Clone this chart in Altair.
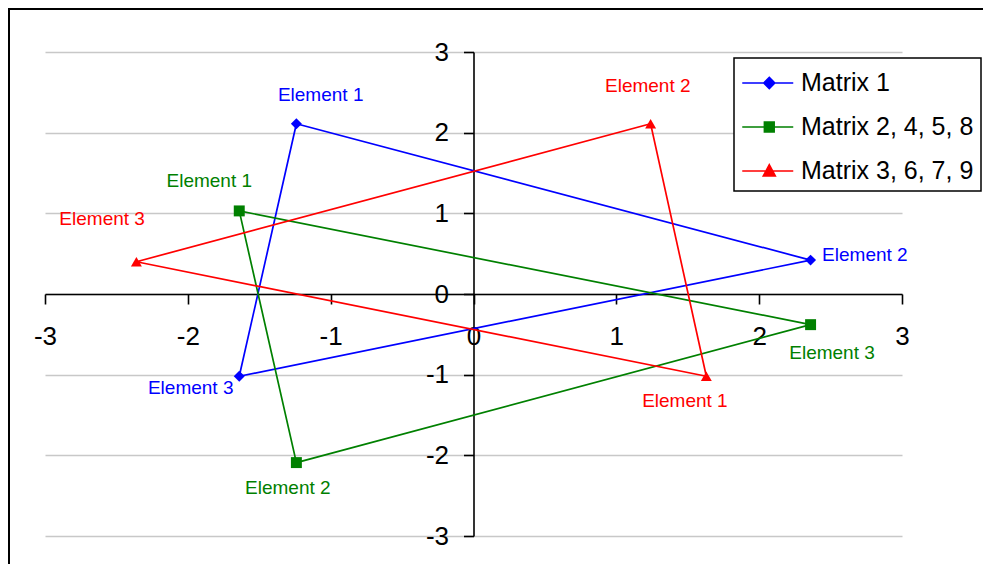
import altair as alt
import pandas as pd

FONT = "Liberation Sans"

series = ["Matrix 1", "Matrix 2, 4, 5, 8", "Matrix 3, 6, 7, 9"]
colors = ["#0000ff", "#008000", "#ff0000"]
elements = ["Element 1", "Element 2", "Element 3"]

# point coordinates (Element 1, 2, 3) per series
m1_x = [-1.24, 2.36, -1.64]
m1_y = [2.11, 0.42, -1.02]
m2_x = [-1.64, -1.24, 2.36]
m2_y = [1.03, -2.09, -0.38]
m3_x = [1.63, 1.24, -2.36]
m3_y = [-1.02, 2.11, 0.40]

# label anchor positions (data units)
m1_lx = [-1.07, 2.74, -1.98]
m1_ly = [2.47, 0.48, -1.17]
m2_lx = [-1.85, -1.30, 2.51]
m2_ly = [1.40, -2.40, -0.73]
m3_lx = [1.48, 1.22, -2.60]
m3_ly = [-1.33, 2.58, 0.93]

ticks = [-3, -2, -1, 0, 1, 2, 3]

W, H = 857, 484

pts, lines, labs = [], [], []
for s, xs, ys, lxs, lys in zip(series, [m1_x, m2_x, m3_x], [m1_y, m2_y, m3_y],
                               [m1_lx, m2_lx, m3_lx], [m1_ly, m2_ly, m3_ly]):
    for i, e in enumerate(elements):
        pts.append(dict(series=s, element=e, x=xs[i], y=ys[i], seq=i))
        labs.append(dict(series=s, element=e, x=lxs[i], y=lys[i]))
    for i in [0, 1, 2, 0]:
        lines.append(dict(series=s, x=xs[i], y=ys[i], seq=len(lines)))
pts_df = pd.DataFrame(pts)
lines_df = pd.DataFrame(lines)
labs_df = pd.DataFrame(labs)

xscale = alt.Scale(domain=[-3, 3], nice=False, zero=False)
yscale = alt.Scale(domain=[-3, 3], nice=False, zero=False)
xaxis = alt.Axis(values=ticks, orient="bottom", offset=-H / 2, grid=False,
                 domainColor="black", domainWidth=1.6, tickColor="black",
                 tickWidth=1.6, tickSize=10, labelFont=FONT, labelFontSize=26,
                 labelColor="black", labelPadding=19, labelFlush=False,
                 labelExpr="datum.value + ''", title=None)
yaxis = alt.Axis(values=ticks, orient="left", offset=-W / 2, grid=True,
                 gridColor="#c8c8c8", gridWidth=1.5,
                 domainColor="black", domainWidth=1.6, tickColor="black",
                 tickWidth=1.6, tickSize=10, labelFont=FONT, labelFontSize=26,
                 labelColor="black", labelPadding=15, labelFlush=False,
                 labelExpr="datum.value + ''", title=None)
X = alt.X("x:Q", scale=xscale, axis=xaxis)
Y = alt.Y("y:Q", scale=yscale, axis=yaxis)
cscale = alt.Scale(domain=series, range=colors)
C = alt.Color("series:N", scale=cscale, legend=None)

frame = alt.Chart(pd.DataFrame({"a": [0]})).mark_rect(
    fillOpacity=0, stroke="black", strokeWidth=2
).encode(x=alt.value(-36), x2=alt.value(W + 300),
         y=alt.value(-43), y2=alt.value(H + 300))

line_layer = alt.Chart(lines_df).mark_line(strokeWidth=1.7).encode(
    x=X, y=Y, color=C, detail="series:N", order="seq:Q")

point_layer = alt.Chart(pts_df).mark_point(filled=True, opacity=1, size=120).encode(
    x=X, y=Y, color=C,
    shape=alt.Shape("series:N", scale=alt.Scale(domain=series, range=["diamond", "square", "triangle-up"]), legend=None))

label_layer = alt.Chart(labs_df).mark_text(font=FONT, fontSize=19, align="center", baseline="middle").encode(
    x=X, y=Y, color=C, text="element:N")

legend_paths = [
    "M-1.5,0L1.5,0M0.09,-0.33L0.42,0L0.09,0.33L-0.24,0Z",
    "M-1.5,0L1.5,0M-0.2,-0.3L0.38,-0.3L0.38,0.3L-0.2,0.3Z",
    "M-1.5,0L1.5,0M0.09,-0.38L0.45,0.3L-0.27,0.3Z",
]
lg = alt.Legend(orient="none", legendX=689, legendY=6, title=None, padding=7,
                rowPadding=13, symbolSize=1156, symbolStrokeWidth=1.5,
                symbolOffset=8.75, labelOffset=15.25, labelFont=FONT, labelFontSize=25,
                labelColor="black", strokeColor="black", fillColor="white",
                labelLimit=400)
legend_layer = alt.Chart(pts_df).mark_point(opacity=1).encode(
    fill=alt.Fill("series:N", scale=alt.Scale(domain=series, range=colors), legend=lg),
    stroke=alt.Stroke("series:N", scale=alt.Scale(domain=series, range=colors), legend=lg),
    shape=alt.Shape("series:N", scale=alt.Scale(domain=series, range=legend_paths), legend=lg),
).transform_filter("false")

chart = alt.layer(frame, line_layer, point_layer, label_layer, legend_layer).resolve_scale(
    shape="independent", fill="independent", stroke="independent"
).properties(
    width=W, height=H,
    autosize=alt.AutoSizeParams(type="none"),
    padding={"left": 37, "top": 44, "right": 975 - 37 - W, "bottom": 556 - 44 - H},
    background="white",
).configure_view(strokeWidth=0).configure_legend(strokeWidth=1.5)

chart.save("out.html", embed_options={"renderer": "svg", "actions": False})
